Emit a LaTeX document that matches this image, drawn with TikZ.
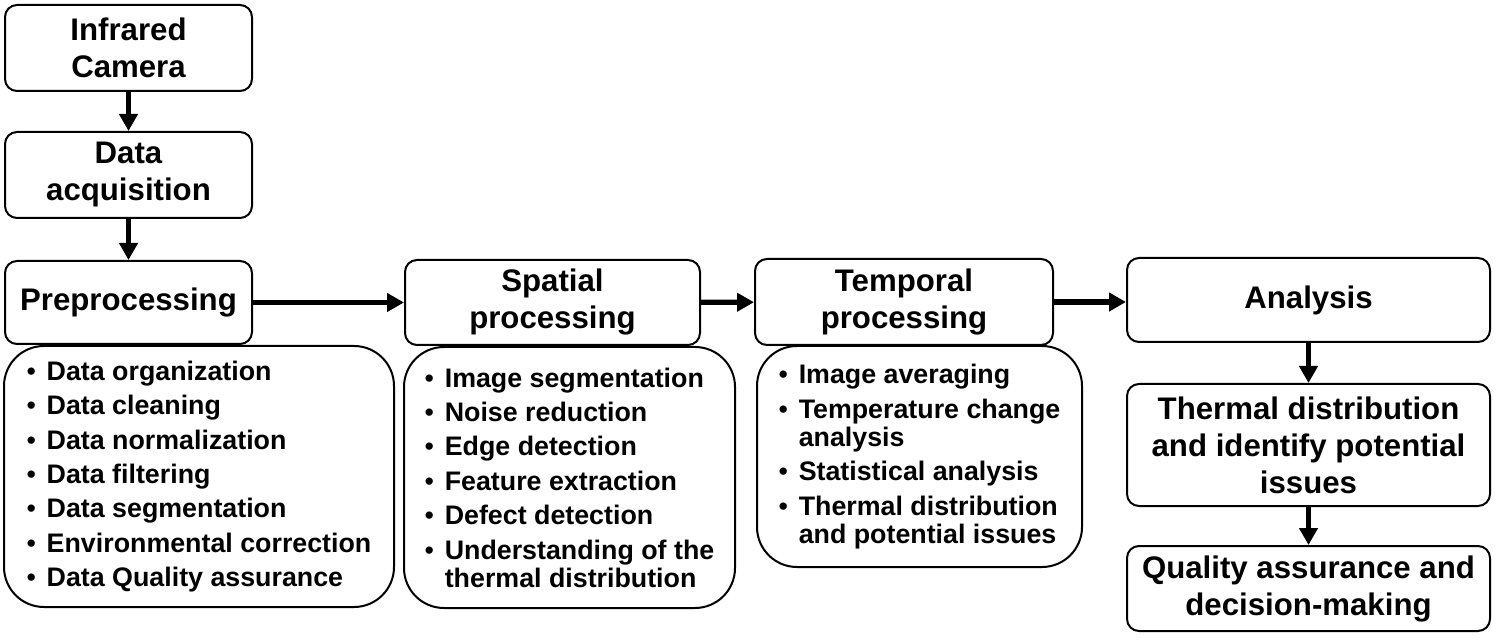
\documentclass[tikz,border=0pt]{standalone}
\usepackage{fontspec}
\setmainfont{Liberation Sans}
\usetikzlibrary{arrows.meta, positioning}

\newcommand{\bul}{{\mdseries\textbullet}\hspace{0.4em}}
\newcommand{\cont}{\phantom{\bul}}

\tikzset{
	stage/.style={rectangle,draw,rounded corners=6pt,line width=1pt,inner sep=0pt,align=center,font=\bfseries\fontsize{15.6}{18.5}\selectfont},
	tasks/.style={rectangle,draw,rounded corners=20pt,line width=1pt,inner sep=0pt,align=left,font=\bfseries\fontsize{13.4}{14}\selectfont},
	flow/.style={-{Triangle[length=8.5pt,width=9pt]},line width=2.6pt}
}

\begin{document}
\begin{tikzpicture}[x=0.5pt,y=-0.5pt]
				\useasboundingbox (0,0) rectangle (1497,640);
				% left column
				\node (cam) [stage,minimum width=123.5pt,minimum height=43pt] at (128.5,48) {Infrared\\Camera};
				\node (acq) [stage,minimum width=123.5pt,minimum height=43pt] at (128.5,175) {Data\\acquisition};
				\node (pre) [stage,minimum width=123.5pt,minimum height=41.5pt] at (128.5,302.5) {Preprocessing};
				\node (prelist) [tasks,minimum width=195pt,minimum height=130.5pt] at (199,476.5) {\bul Data organization\\[3.2pt]
					\bul Data cleaning\\[3.2pt]
					\bul Data normalization\\[3.2pt]
					\bul Data filtering\\[3.2pt]
					\bul Data segmentation\\[3.2pt]
					\bul Environmental correction\\[3.2pt]
					\bul Data Quality assurance};
				% processing stages
				\node (spa) [stage,minimum width=147.5pt,minimum height=42.5pt] at (552.5,302.5) {Spatial\\processing};
				\node (spalist) [tasks,minimum width=165.5pt,minimum height=130.5pt] at (569.5,477.5) {\bul Image segmentation\\[3.2pt]
					\bul Noise reduction\\[3.2pt]
					\bul Edge detection\\[3.2pt]
					\bul Feature extraction\\[3.2pt]
					\bul Defect detection\\[3.2pt]
					\bul Understanding of the\\
					\cont thermal distribution};
				\node (tem) [stage,minimum width=149pt,minimum height=43pt] at (904,302) {Temporal\\processing};
				\node (temlist) [tasks,minimum width=162.5pt,minimum height=110.5pt] at (919.5,456.5) {\bul Image averaging\\[3.2pt]
					\bul Temperature change\\
					\cont analysis\\[3.2pt]
					\bul Statistical analysis\\[3.2pt]
					\bul Thermal distribution\\
					\cont and potential issues};
				% right column
				\node (ana) [stage,minimum width=181.5pt,minimum height=42pt] at (1308.5,300) {Analysis};
				\node (thd) [stage,minimum width=181.5pt,minimum height=61pt] at (1308.5,445) {Thermal distribution\\and identify potential\\issues};
				\node (qa) [stage,minimum width=181.5pt,minimum height=42.5pt] at (1308.5,588.5) {Quality assurance and\\decision-making};
				% connectors
				\draw [flow](cam) -- (acq);
				\draw [flow](acq) -- (pre);
				\draw [flow](pre) -- (spa);
				\draw [flow](spa) -- (tem);
				\draw [flow](tem.east) -- (tem.east -| ana.west);
				\draw [flow](ana) -- (thd);
				\draw [flow](thd) -- (qa);
			\end{tikzpicture}
\end{document}
